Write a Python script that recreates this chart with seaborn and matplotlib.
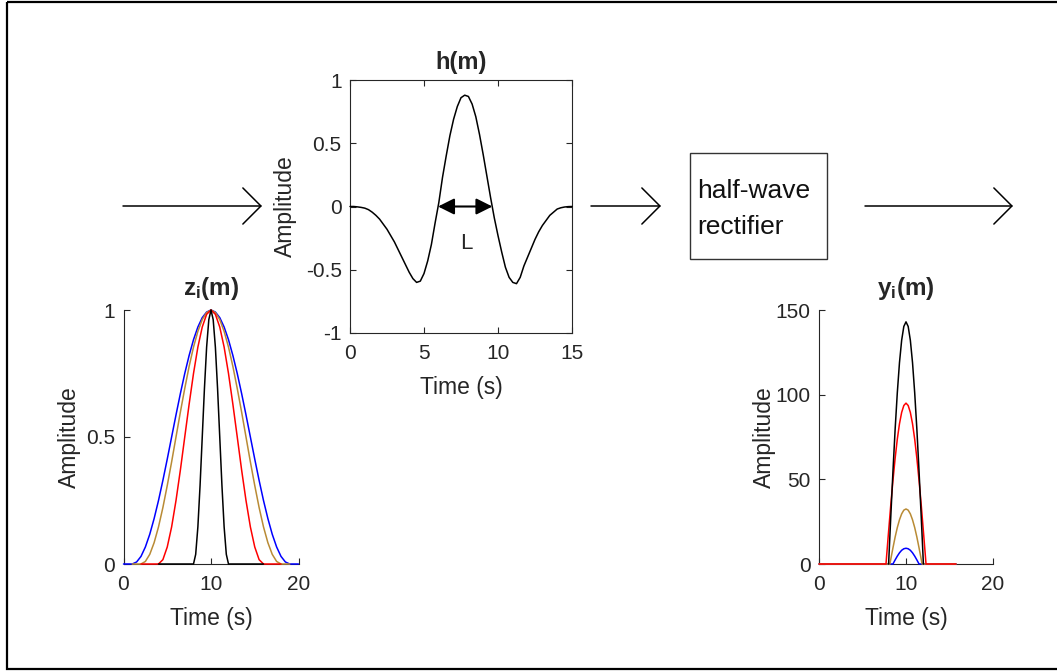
import numpy as np
import matplotlib
matplotlib.use('Agg')
import matplotlib.pyplot as plt
import seaborn as sns
from matplotlib.patches import Rectangle

# z_i(m): four windows, time grids and amplitudes
z_blue_t = np.arange(0, 20.5, 0.5)
z_blue = [0, 0, 0, 0.008, 0.03, 0.067, 0.117, 0.179, 0.25, 0.329, 0.413, 0.5, 0.587,
          0.671, 0.75, 0.821, 0.883, 0.933, 0.97, 0.992, 1, 0.992, 0.97, 0.933, 0.883,
          0.821, 0.75, 0.671, 0.587, 0.5, 0.413, 0.329, 0.25, 0.179, 0.117, 0.067,
          0.03, 0.008, 0, 0, 0]
z_brown_t = np.arange(1, 19.5, 0.5)
z_brown = [0, 0, 0, 0.01, 0.038, 0.084, 0.146, 0.222, 0.309, 0.402, 0.5, 0.598, 0.691,
           0.778, 0.854, 0.916, 0.962, 0.99, 1, 0.99, 0.962, 0.916, 0.854, 0.778, 0.691,
           0.598, 0.5, 0.402, 0.309, 0.222, 0.146, 0.084, 0.038, 0.01, 0, 0, 0]
z_red_t = np.arange(2, 18.5, 0.5)
z_red = [0, 0, 0, 0, 0, 0.017, 0.067, 0.146, 0.25, 0.37, 0.5, 0.629, 0.75, 0.854, 0.933,
         0.983, 1, 0.983, 0.933, 0.854, 0.75, 0.629, 0.5, 0.37, 0.25, 0.146, 0.067,
         0.017, 0, 0, 0, 0, 0]
z_black_t = np.arange(4, 16.25, 0.25)
z_black = [0] * 17 + [0.038, 0.146, 0.309, 0.5, 0.691, 0.854, 0.962, 1, 0.962, 0.854,
                      0.691, 0.5, 0.309, 0.146, 0.038] + [0] * 17

# h(m)
h_t = np.arange(0, 15.25, 0.25)
h_vals = [0, 0, -0.003, -0.007, -0.013, -0.025, -0.045, -0.07, -0.10, -0.14, -0.18,
          -0.23, -0.28, -0.34, -0.40, -0.46, -0.52, -0.57, -0.60, -0.59, -0.53, -0.43,
          -0.30, -0.13, 0.03, 0.23, 0.40, 0.56, 0.69, 0.79, 0.86, 0.88, 0.87, 0.81, 0.71,
          0.57, 0.41, 0.24, 0.07, -0.09, -0.23, -0.36, -0.48, -0.56, -0.60, -0.61, -0.56,
          -0.47, -0.40, -0.33, -0.26, -0.20, -0.15, -0.11, -0.07, -0.045, -0.02, -0.01,
          -0.004, -0.001, 0]

# y_i(m)
y_blue_t = [0, 8.5, 8.75, 9, 9.25, 9.5, 9.75, 10, 10.25, 10.5, 10.75, 11, 11.25, 11.5, 15.75]
y_blue = [0, 0, 2.4, 4.65, 6.6, 8.1, 9.0, 9.3, 9.0, 8.1, 6.6, 4.65, 2.4, 0, 0]
y_brown_t = [0, 8.15, 8.25, 8.5, 8.75, 9, 9.25, 9.5, 9.75, 10, 10.25, 10.5, 10.75, 11,
             11.25, 11.5, 11.75, 11.85, 15.75]
y_brown = [0, 0, 2.8, 9.5, 15.9, 21.5, 26.1, 29.6, 31.8, 32.5, 31.8, 29.6, 26.1, 21.5,
           15.9, 9.5, 2.8, 0, 0]
y_red_t = [0, 7.7, 7.75, 8, 8.25, 8.5, 8.75, 9, 9.25, 9.5, 9.75, 10, 10.25, 10.5, 10.75,
           11, 11.25, 11.5, 11.75, 12, 12.25, 12.3, 15.75]
y_red = [0, 0, 3.3, 19.3, 34.9, 49.3, 62.4, 73.7, 82.8, 89.5, 93.6, 95, 93.6, 89.5, 82.8,
         73.7, 62.4, 49.3, 34.9, 19.3, 3.3, 0, 0]
y_black_t = [8, 8.25, 8.5, 8.75, 9, 9.25, 9.5, 9.75, 10, 10.25, 10.5, 10.75, 11, 11.25,
             11.5, 11.75, 12]
y_black = [0, 27.9, 54.7, 79.5, 101.1, 118.9, 132.1, 140.3, 143, 140.3, 132.1, 118.9,
           101.1, 79.5, 54.7, 27.9, 0]

BLUE, BROWN, RED, BLACK = '#0000ff', '#b98b35', '#ff0000', '#000000'
AX_COL = '#262626'

sns.set_theme(style='white')
plt.rcParams['font.family'] = ['Liberation Sans', 'DejaVu Sans']
plt.rcParams['mathtext.fontset'] = 'custom'
plt.rcParams['mathtext.rm'] = 'Liberation Sans'
plt.rcParams['mathtext.bf'] = 'Liberation Sans:bold'
plt.rcParams['axes.unicode_minus'] = False

W, H = 1057, 671
fig = plt.figure(figsize=(W / 100, H / 100), dpi=100)
fig.patch.set_facecolor('white')

# background layer for the block diagram
bg = fig.add_axes([0, 0, 1, 1])
bg.set_xlim(0, W)
bg.set_ylim(H, 0)
bg.axis('off')
bg.add_patch(Rectangle((6.5, 1.5), 1100, 667.5, fill=False, lw=1.6, ec='black'))

arrow = dict(arrowstyle='->,head_length=0.65,head_width=0.65', lw=1.1, color='black',
             mutation_scale=20, shrinkA=0, shrinkB=0)
for x0, x1 in [(123, 262), (591, 661), (865, 1013)]:
    bg.annotate('', xy=(x1, 206), xytext=(x0, 206), arrowprops=arrow)
bg.add_patch(Rectangle((689.5, 152.5), 137, 106.5, fill=False, lw=1.0, ec='#333333'))
bg.text(697, 209, 'half-wave\nrectifier', ha='left', va='center', fontsize=19,
        linespacing=1.6, color='#111111')


def style(ax, box, ypad=6):
    for s in ['top', 'right']:
        ax.spines[s].set_visible(box)
    for s in ax.spines.values():
        s.set_color(AX_COL)
        s.set_linewidth(0.8)
    ax.tick_params(direction='in', length=4, width=0.8, color=AX_COL, labelcolor=AX_COL,
                   labelsize=15, top=box, right=box, bottom=True, left=True)
    ax.tick_params(axis='x', pad=8)
    ax.tick_params(axis='y', pad=6)
    ax.set_xlabel('Time (s)', fontsize=16.5, color=AX_COL, labelpad=9)
    ax.set_ylabel('Amplitude', fontsize=16.5, color=AX_COL, labelpad=ypad)
    ax.set_facecolor('none')


def curve(ax, t, v, c):
    sns.lineplot(x=list(t), y=v, color=c, lw=1.1, ax=ax, estimator=None, sort=False,
                 zorder=3, clip_on=False)


# z_i(m)
axz = fig.add_axes([123.5 / W, 1 - 564 / H, 175 / W, 254 / H])
for t, v, c in [(z_blue_t, z_blue, BLUE), (z_brown_t, z_brown, BROWN),
                (z_red_t, z_red, RED), (z_black_t, z_black, BLACK)]:
    curve(axz, t, v, c)
axz.set_xlim(0, 20)
axz.set_ylim(0, 1)
axz.set_xticks([0, 10, 20])
axz.set_yticks([0, 0.5, 1])
axz.set_yticklabels(['0', '0.5', '1'])
style(axz, False, ypad=4)
axz.set_title(r'$\mathbf{z_i(m)}$', fontsize=17.5, pad=11)

# h(m)
axh = fig.add_axes([350 / W, 1 - 333 / H, 222 / W, 253 / H])
curve(axh, h_t, h_vals, BLACK)
axh.set_xlim(0, 15)
axh.set_ylim(-1, 1)
axh.set_xticks([0, 5, 10, 15])
axh.set_yticks([-1, -0.5, 0, 0.5, 1])
axh.set_yticklabels(['-1', '-0.5', '0', '0.5', '1'])
style(axh, True)
axh.set_title('h(m)', fontsize=17, fontweight='bold', pad=8)
axh.annotate('', xy=(9.62, 0), xytext=(5.95, 0),
             arrowprops=dict(arrowstyle='<|-|>,head_length=0.7,head_width=0.35', lw=1.5,
                             color='black', mutation_scale=14, shrinkA=0, shrinkB=0))
axh.text(7.85, -0.29, 'L', ha='center', va='center', fontsize=16, color=AX_COL)

# y_i(m)
axy = fig.add_axes([819 / W, 1 - 564 / H, 174 / W, 254 / H])
for t, v, c in [(y_blue_t, y_blue, BLUE), (y_brown_t, y_brown, BROWN),
                (y_red_t, y_red, RED), (y_black_t, y_black, BLACK)]:
    curve(axy, t, v, c)
axy.set_xlim(0, 20)
axy.set_ylim(0, 150)
axy.set_xticks([0, 10, 20])
axy.set_yticks([0, 50, 100, 150])
style(axy, False, ypad=0)
axy.set_title(r'$\mathbf{y_i(m)}$', fontsize=17.5, pad=11)

fig.savefig('out.png', dpi=100)
